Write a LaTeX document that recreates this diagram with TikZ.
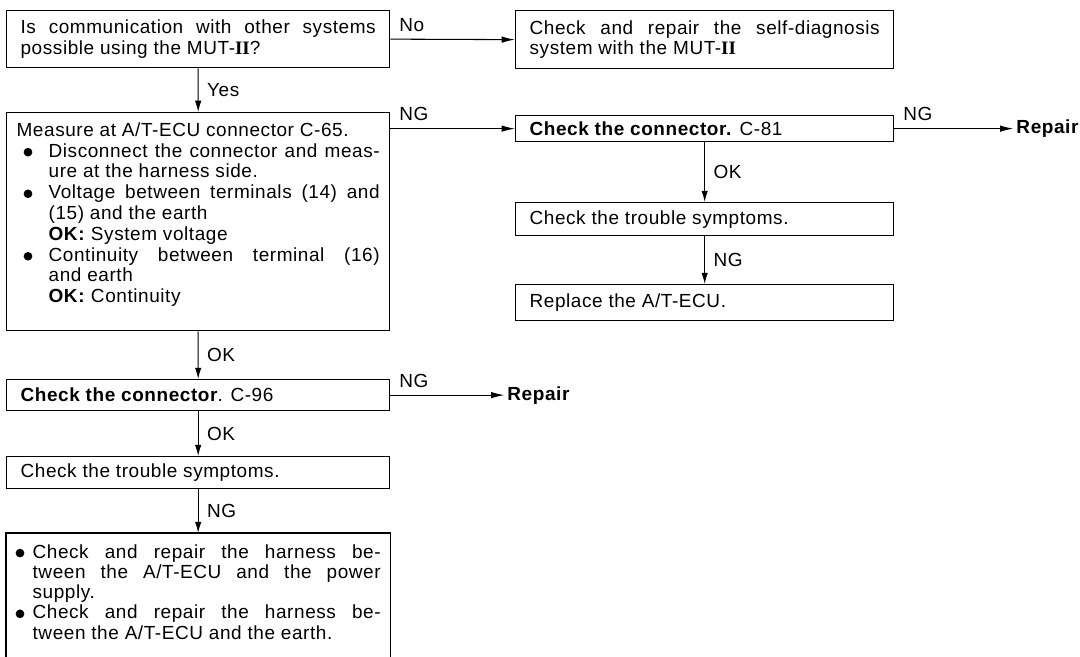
\documentclass[tikz,border=0pt]{standalone}
\usepackage{fontspec}
\setmainfont{Liberation Sans}[LetterSpace=3]
\newfontfamily\romfont{Liberation Serif}
\usetikzlibrary{arrows.meta}
\newcommand\blt{\tikz[baseline={(0,-3.5pt)}]\fill (0,0) circle (3.1pt);}
\newcommand\itm[3]{{\hangindent=#2\hangafter=1\noindent\makebox[#2][l]{\hspace{#1}\blt}#3\par}}
\newcommand\mut{MUT-{\romfont\bfseries II}}

\begin{document}
\begin{tikzpicture}[x=0.025cm,y=-0.025cm,
  every node/.style={font=\fontsize{13.5}{14.8}\selectfont},
  stepbox/.style={draw,line width=0.9pt,anchor=north west,inner xsep=0.35cm,inner ysep=2pt,align=justify},
  lcol/.style={stepbox,text width=8.875cm},
  rcol/.style={stepbox,text width=8.75cm},
  vflow/.style={-{Latex[length=8pt,width=4.6pt]},line width=0.75pt},
  hflow/.style={-{Latex[length=9.5pt,width=4.6pt]},line width=0.75pt},
  vtag/.style={inner sep=2pt,right,xshift=4pt},
  htag/.style={inner sep=2pt,pos=0,anchor=south west,xshift=4pt,yshift=3pt},
  repair/.style={font=\fontsize{13.5}{14.8}\selectfont\bfseries,inner xsep=2pt,anchor=west}]
\useasboundingbox (0,0) rectangle (1080,657);

\node[lcol,minimum height=1.425cm] (q1) at (6,10) {Is communication with other systems\linebreak possible using the \mut?};
\node[rcol,minimum height=1.45cm] (sd) at (515,10) {Check and repair the self-diagnosis\linebreak system with the \mut};
\node[stepbox,inner xsep=0.25cm,text width=9.075cm,minimum height=5.45cm] (meas) at (6,112) {Measure at A/T-ECU connector C-65.\par
  \itm{0.175cm}{0.8cm}{Disconnect the connector and meas-\linebreak ure at the harness side.}
  \itm{0.175cm}{0.8cm}{Voltage between terminals (14) and\linebreak (15) and the earth\newline \textbf{OK:} System voltage}
  \itm{0.175cm}{0.8cm}{Continuity between terminal (16)\linebreak and earth\newline \textbf{OK:} Continuity}
  \vspace{-2pt}\mbox{}};
\node[rcol,minimum height=0.65cm] (c81) at (515,115) {\textbf{Check the connector.} C-81};
\node[rcol,minimum height=0.825cm] (trb1) at (515,202) {Check the trouble symptoms.};
\node[rcol,minimum height=0.9cm] (repl) at (515,284) {Replace the A/T-ECU.};
\node[lcol,minimum height=0.775cm] (c96) at (6,379) {\textbf{Check the connector}. C-96};
\node[lcol,minimum height=0.8cm] (trb2) at (6,456) {Check the trouble symptoms.};
\node[stepbox,draw=none,inner xsep=0.225cm,text width=9.125cm,minimum height=3.3cm,
  font=\fontsize{13.5}{14.4}\selectfont] (harn) at (6,533) {%
  \itm{0cm}{0.425cm}{Check and repair the harness be-\linebreak tween the A/T-ECU and the power\linebreak supply.}
  \itm{0cm}{0.425cm}{Check and repair the harness be-\linebreak tween the A/T-ECU and the earth.}
  \vspace{-3pt}\mbox{}};
\draw[line width=0.9pt] (harn.south west) -- (harn.north west) -- (harn.north east) -- (harn.south east);
\node[repair] (rep1) at ([xshift=2.975cm]c81.east) {Repair};
\node[repair] (rep2) at ([xshift=2.85cm]c96.east) {Repair};

\draw[hflow] (q1.east) -- node[htag]{No} (sd.west);
\draw[vflow] (q1.south) -- node[vtag]{Yes} (meas.north);
\draw[hflow] (meas.east |- c81.west) -- node[htag]{NG} (c81.west);
\draw[hflow] (c81.east) -- node[htag]{NG} (rep1.west);
\draw[vflow] (c81.south) -- node[vtag]{OK} (trb1.north);
\draw[vflow] (trb1.south) -- node[vtag]{NG} (repl.north);
\draw[vflow] (meas.south) -- node[vtag]{OK} (c96.north);
\draw[hflow] (c96.east) -- node[htag]{NG} (rep2.west);
\draw[vflow] (c96.south) -- node[vtag]{OK} (trb2.north);
\draw[vflow] (trb2.south) -- node[vtag]{NG} (harn.north);
\end{tikzpicture}
\end{document}
